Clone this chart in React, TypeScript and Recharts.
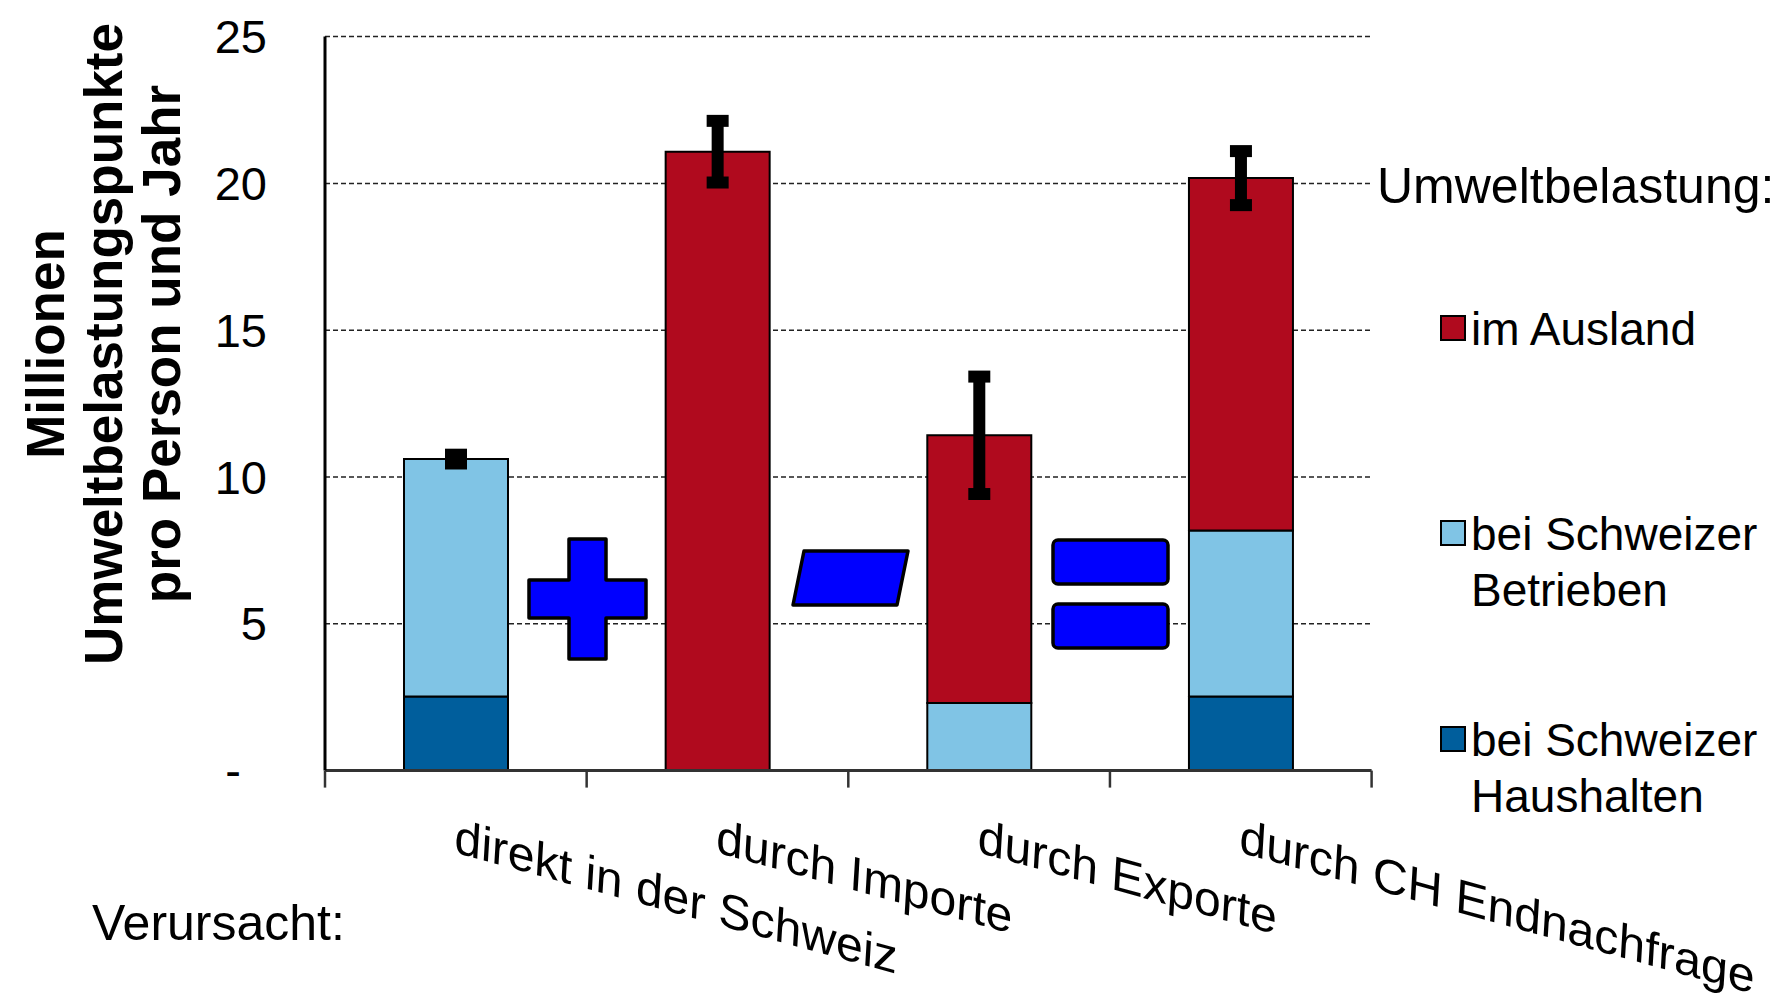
import React from 'react';
import { Bar, BarChart, CartesianGrid, ErrorBar, XAxis, YAxis } from 'recharts';

// Umweltbelastung der Schweiz, Mio. UBP pro Person und Jahr
const categories = ['direkt in der Schweiz', 'durch Importe', 'durch Exporte', 'durch CH Endnachfrage'];
const haushalte = [2.52, 0, 0, 2.52];
const betriebe = [8.09, 0, 2.3, 5.66];
const ausland = [0, 21.08, 9.12, 12.0];
const unsicherheit = [0.15, 1.05, 2.0, 0.92];
const yTicks = [0, 5, 10, 15, 20, 25];

const FONT = '"Liberation Sans", Arial, sans-serif';
const RED = '#B00A1E';
const LIGHT = '#80C4E5';
const DARK = '#005E9C';
const SYMBOL = '#0000FF';
const LABEL_GAP = 47;
const EDGE_TICK = 17;

// error bar sits on the topmost non-empty segment
const data = categories.map((name, i) => ({
  name,
  haushalte: haushalte[i],
  betriebe: betriebe[i],
  ausland: ausland[i],
  errBetriebe: ausland[i] > 0 ? 0 : unsicherheit[i],
  errAusland: ausland[i] > 0 ? unsicherheit[i] : 0,
}));

// label below each category, plus tick marks on the category edges (Excel style)
const CategoryTick = (props: any) => {
  const { x, y, payload, index, visibleTicksCount } = props;
  const count = visibleTicksCount || categories.length;
  const band = Number(props.width) / count;
  const axisY = y - LABEL_GAP;
  return (
    <g>
      <line x1={x - band / 2} x2={x - band / 2} y1={axisY} y2={axisY + EDGE_TICK} stroke="#333" strokeWidth={2.5} />
      {index === count - 1 && (
        <line x1={x + band / 2} x2={x + band / 2} y1={axisY} y2={axisY + EDGE_TICK} stroke="#333" strokeWidth={2.5} />
      )}
      <text
        x={x}
        y={y}
        dy="0.72em"
        textAnchor="start"
        fontSize={48}
        fontFamily={FONT}
        fill="#000"
        transform={`translate(${x} ${y}) matrix(1 0.275 -0.06 1 0 0) translate(${-x} ${-y})`}
      >
        {payload.value}
      </text>
    </g>
  );
};

const legendItems = [
  { color: RED, lines: ['im Ausland'], top: 316 },
  { color: LIGHT, lines: ['bei Schweizer', 'Betrieben'], top: 521 },
  { color: DARK, lines: ['bei Schweizer', 'Haushalten'], top: 727 },
];

export default function App() {
  return (
    <div style={{ position: 'absolute', left: 0, top: 0, width: 1787, height: 1008, background: '#fff' }}>
      <BarChart
        width={1787}
        height={1008}
        data={data}
        margin={{ top: 36.6, right: 415.4, bottom: 236.4, left: 0 }}
        barSize={104}
      >
        <CartesianGrid horizontal vertical={false} stroke="#222" strokeWidth={1.5} strokeDasharray="5 3" />
        <XAxis
          dataKey="name"
          height={1}
          tickLine={false}
          tickSize={0}
          tickMargin={LABEL_GAP}
          axisLine={{ stroke: '#333', strokeWidth: 3 }}
          tick={<CategoryTick />}
          interval={0}
        />
        <YAxis
          width={325}
          domain={[0, 25]}
          ticks={yTicks}
          interval={0}
          tickLine={false}
          tickSize={0}
          tickMargin={58}
          axisLine={{ stroke: '#000', strokeWidth: 3 }}
          tick={{ fill: '#000', fontSize: 47, fontFamily: FONT }}
          tickFormatter={(v: number) => (v === 0 ? '-\u00a0\u00a0' : String(v))}
        />
        <Bar dataKey="haushalte" stackId="a" fill={DARK} stroke="#000" strokeWidth={2} isAnimationActive={false} />
        <Bar dataKey="betriebe" stackId="a" fill={LIGHT} stroke="#000" strokeWidth={2} isAnimationActive={false}>
          <ErrorBar dataKey="errBetriebe" direction="y" width={11} stroke="#000" strokeWidth={12} isAnimationActive={false} />
        </Bar>
        <Bar dataKey="ausland" stackId="a" fill={RED} stroke="#000" strokeWidth={2} isAnimationActive={false}>
          <ErrorBar dataKey="errAusland" direction="y" width={11} stroke="#000" strokeWidth={12} isAnimationActive={false} />
        </Bar>
      </BarChart>

      <svg
        width={1787}
        height={1008}
        style={{ position: 'absolute', left: 0, top: 0, pointerEvents: 'none' }}
        fontFamily={FONT}
      >
        {/* y axis title */}
        <g fontSize={53} fontWeight="bold" textAnchor="middle" fill="#000">
          <text x={64} y={344} transform="rotate(-90 64 344)">Millionen</text>
          <text x={122} y={344} transform="rotate(-90 122 344)">Umweltbelastungspunkte</text>
          <text x={180} y={344} transform="rotate(-90 180 344)">pro Person und Jahr</text>
        </g>

        <text x={92} y={940} fontSize={50} fill="#000">Verursacht:</text>

        {/* plus */}
        <path
          d="M569 539 H606 V580 H646 V618 H606 V659 H569 V618 H529 V580 H569 Z"
          fill={SYMBOL}
          stroke="#000"
          strokeWidth={3.5}
          strokeLinejoin="round"
        />
        {/* minus */}
        <path d="M804 551 H908 L897 605 H793 Z" fill={SYMBOL} stroke="#000" strokeWidth={3.5} strokeLinejoin="round" />
        {/* equals */}
        <rect x={1053} y={540} width={115} height={44} rx={5} fill={SYMBOL} stroke="#000" strokeWidth={3.5} />
        <rect x={1053} y={604} width={115} height={44} rx={5} fill={SYMBOL} stroke="#000" strokeWidth={3.5} />

        {/* legend */}
        <text x={1377} y={203} fontSize={50} fill="#000">Umweltbelastung:</text>
        {legendItems.map((item) => (
          <g key={item.color}>
            <rect x={1441} y={item.top} width={24} height={24} fill={item.color} stroke="#000" strokeWidth={2} />
            {item.lines.map((line, j) => (
              <text key={line} x={1471} y={item.top + 29 + j * 56} fontSize={46} fill="#000">
                {line}
              </text>
            ))}
          </g>
        ))}
      </svg>
    </div>
  );
}
